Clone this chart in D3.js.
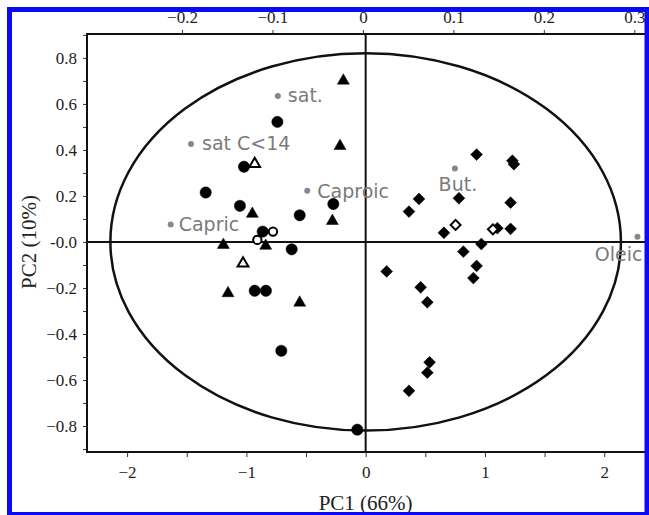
<!DOCTYPE html>
<html>
<head>
<meta charset="utf-8">
<script src="https://cdn.jsdelivr.net/npm/d3@7"></script>
<style>
  body { margin: 0; background: #fff; }
  svg { display: block; }
</style>
</head>
<body>
<svg width="649" height="515"></svg>
<script>
// PCA scores (PC1, PC2) by sample group
const filledCircles = [
  [-0.74, 0.522], [-1.02, 0.327], [-1.341, 0.215], [-1.054, 0.157],
  [-0.553, 0.116], [-0.271, 0.165], [-0.863, 0.045], [-0.62, -0.032],
  [-0.93, -0.212], [-0.836, -0.212], [-0.707, -0.473], [-0.07, -0.816]
];
const openCircles = [[-0.777, 0.045], [-0.908, 0.009]];
const filledTriangles = [
  [-0.187, 0.701], [-0.215, 0.417], [-0.95, 0.122], [-0.279, 0.091],
  [-1.193, -0.013], [-0.838, -0.017], [-1.154, -0.223], [-0.553, -0.264]
];
const openTriangles = [[-0.93, 0.339], [-1.028, -0.093]];
const filledDiamonds = [
  [0.93, 0.38], [1.23, 0.353], [1.243, 0.338], [0.447, 0.187], [0.363, 0.132],
  [0.782, 0.19], [1.215, 0.171], [0.656, 0.04], [1.104, 0.06], [1.215, 0.057],
  [0.97, -0.009], [0.819, -0.042], [0.93, -0.104], [0.903, -0.157],
  [0.176, -0.128], [0.461, -0.197], [0.517, -0.262], [0.536, -0.523],
  [0.517, -0.568], [0.363, -0.647]
];
const openDiamonds = [[0.754, 0.074], [1.067, 0.055]];

// loadings (top axis / right axis units)
const loadingNames = ["sat.", "sat C<14", "Caproic", "Capric", "But.", "Oleic"];
const loadingX = [-0.094, -0.19, -0.0615, -0.2125, 0.1017, 0.3035];
const loadingY = [0.0837, 0.0562, 0.0294, 0.0101, 0.0422, 0.003];

// correlation ellipse radii (PC units)
const ellipseR = [2.14, 0.82];

const bottomTicks = [-2, -1.5, -1, -0.5, 0, 0.5, 1, 1.5, 2];
const leftTicks = [-0.9, -0.8, -0.7, -0.6, -0.5, -0.4, -0.3, -0.2, -0.1, 0,
  0.1, 0.2, 0.3, 0.4, 0.5, 0.6, 0.7, 0.8, 0.9];
const topTicks = [-0.2, -0.1, 0, 0.1, 0.2, 0.3];

const svg = d3.select("svg");
const plotL = 87, plotT = 34, plotB = 452, plotR = 656;

const x = d3.scaleLinear().domain([-2.336, 2.434]).range([plotL, plotR]);
const y = d3.scaleLinear().domain([-0.913, 0.904]).range([plotB, plotT]);
const xTop = d3.scaleLinear().domain([-0.305, 0.324]).range([plotL, plotR]);
const yRight = d3.scaleLinear().domain([-0.1203, 0.1192]).range([plotB, plotT]);

const serif = "Liberation Serif, Times New Roman, serif";

// axes
const gx = svg.append("g").attr("transform", `translate(0,${plotB})`)
  .call(d3.axisBottom(x).tickValues(bottomTicks).tickSize(5).tickPadding(9)
    .tickFormat(d => Number.isInteger(d) ? d3.format("d")(d) : ""));
const gy = svg.append("g").attr("transform", `translate(${plotL},0)`)
  .call(d3.axisLeft(y).tickValues(leftTicks).tickSize(4).tickPadding(6)
    .tickFormat(d => {
      const k = Math.round(d * 10);
      if (k % 2 !== 0 || Math.abs(k) > 8) return "";
      return k === 0 ? "-0.0" : d3.format(".1f")(d);
    }));
const gt = svg.append("g").attr("transform", `translate(0,${plotT})`)
  .call(d3.axisTop(xTop).tickValues(topTicks).tickSize(4).tickPadding(7)
    .tickFormat(d => d === 0 ? "0" : d3.format(".1f")(d)));

[gx, gy, gt].forEach(g => {
  g.attr("font-family", serif).attr("font-size", 17);
  g.select(".domain").remove();
  g.selectAll(".tick line").attr("stroke", "#333").attr("stroke-width", 1);
  g.selectAll(".tick text").attr("fill", "#222")
    .attr("font-family", serif).attr("font-size", 17);
});

// frame and zero lines
svg.append("rect")
  .attr("x", plotL).attr("y", plotT)
  .attr("width", plotR - plotL).attr("height", plotB - plotT)
  .attr("fill", "none").attr("stroke", "#111").attr("stroke-width", 2);
svg.append("line")
  .attr("x1", plotL).attr("x2", plotR).attr("y1", y(0)).attr("y2", y(0))
  .attr("stroke", "#111").attr("stroke-width", 2);
svg.append("line")
  .attr("x1", x(0)).attr("x2", x(0)).attr("y1", plotT).attr("y2", plotB)
  .attr("stroke", "#111").attr("stroke-width", 2);

svg.append("ellipse")
  .attr("cx", x(0)).attr("cy", y(0))
  .attr("rx", x(ellipseR[0]) - x(0)).attr("ry", y(0) - y(ellipseR[1]))
  .attr("fill", "none").attr("stroke", "#111").attr("stroke-width", 2.5);

// loadings
const labelOffset = {
  "sat.": [10, 6, "start"], "sat C<14": [11, 6, "start"],
  "Caproic": [10, 7, "start"], "Capric": [8, 7, "start"],
  "But.": [3, 23, "middle"], "Oleic": [5, 24, "end"]
};
const loadings = loadingNames.map((n, i) => ({ n, x: loadingX[i], y: loadingY[i] }));
const lg = svg.append("g");
lg.selectAll("circle").data(loadings).join("circle")
  .attr("cx", d => xTop(d.x)).attr("cy", d => yRight(d.y)).attr("r", 3)
  .attr("fill", "#888");
lg.selectAll("text").data(loadings).join("text")
  .attr("x", d => xTop(d.x) + labelOffset[d.n][0])
  .attr("y", d => yRight(d.y) + labelOffset[d.n][1])
  .attr("text-anchor", d => labelOffset[d.n][2])
  .attr("fill", "#7a7a7a")
  .attr("font-family", "DejaVu Sans, sans-serif")
  .attr("font-size", 19)
  .text(d => d.n);

// scores
function drawSymbols(data, type, size, filled, rotate) {
  const sym = d3.symbol().type(type).size(size);
  svg.append("g").selectAll("path").data(data).join("path")
    .attr("d", sym)
    .attr("transform", d => `translate(${x(d[0])},${y(d[1])}) rotate(${rotate})`)
    .attr("fill", filled ? "#000" : "#fff")
    .attr("stroke", "#000")
    .attr("stroke-width", filled ? 0.5 : 2);
}
drawSymbols(filledCircles, d3.symbolCircle, 100, true, 0);
drawSymbols(filledTriangles, d3.symbolTriangle, 62, true, 0);
drawSymbols(filledDiamonds, d3.symbolSquare, 70, true, 45);
drawSymbols(openCircles, d3.symbolCircle, 55, false, 0);
drawSymbols(openTriangles, d3.symbolTriangle, 50, false, 0);
drawSymbols(openDiamonds, d3.symbolSquare, 50, false, 45);

// axis titles
svg.append("text")
  .attr("x", x(0)).attr("y", 510)
  .attr("text-anchor", "middle").attr("fill", "#222")
  .attr("font-family", serif).attr("font-size", 21)
  .text("PC1 (66%)");
svg.append("text")
  .attr("transform", `translate(36,${y(0)}) rotate(-90)`)
  .attr("text-anchor", "middle").attr("fill", "#222")
  .attr("font-family", serif).attr("font-size", 21)
  .text("PC2 (10%)");

// blue border
svg.append("rect")
  .attr("x", 9.5).attr("y", 9.5).attr("width", 637.5).attr("height", 505)
  .attr("fill", "none").attr("stroke", "#0a0af5").attr("stroke-width", 5);
</script>
</body>
</html>
